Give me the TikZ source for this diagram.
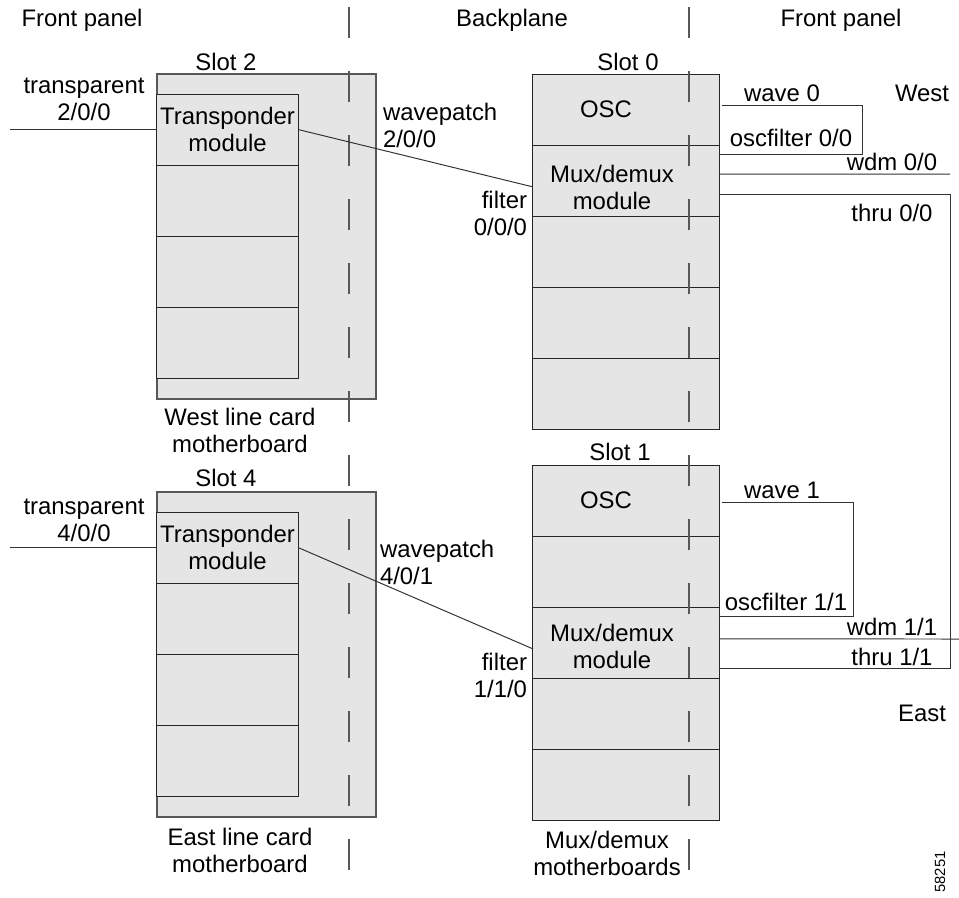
\documentclass[tikz,border=0pt]{standalone}
\usepackage{fontspec}
\setmainfont{Liberation Sans}
\definecolor{cardgray}{HTML}{E5E5E5}
\definecolor{rimgray}{HTML}{585858}
\definecolor{wiregray}{HTML}{333333}

\begin{document}
\begin{tikzpicture}[x=0.025cm,y=-0.025cm,
  every node/.style={font=\fontsize{17}{19.2}\selectfont, inner sep=0pt, outer sep=0pt, align=center},
  card/.style={draw=rimgray, fill=cardgray, line width=0.8pt, minimum width=5.475cm, minimum height=8.125cm},
  module/.style={draw=black!85, fill=cardgray, line width=0.7pt, minimum width=3.525cm, minimum height=1.775cm},
  muxcell/.style={module, minimum width=4.65cm},
  wire/.style={draw=wiregray, line width=0.7pt},
  divider/.style={draw=rimgray, line width=0.8pt, dash pattern=on 22pt off 23.5pt}]
\useasboundingbox (0,0) rectangle (959,897);

% line cards
\node[card] (west) at (266.5,236.5) {};
\node[module] (w2c0) at (227.5,129.5) {};
\node[module] (w2c1) at (227.5,200.5) {};
\node[module] (w2c2) at (227.5,271.5) {};
\node[module] (w2c3) at (227.5,342.5) {};

\node[card] (east) at (266.5,654.5) {};
\node[module] (e4c0) at (227.5,547.5) {};
\node[module] (e4c1) at (227.5,618.5) {};
\node[module] (e4c2) at (227.5,689.5) {};
\node[module] (e4c3) at (227.5,760.5) {};

% mux/demux motherboards
\node[muxcell] (s0c0) at (626,109.5) {};
\node[muxcell] (s0c1) at (626,180.5) {};
\node[muxcell] (s0c2) at (626,251.5) {};
\node[muxcell] (s0c3) at (626,322.5) {};
\node[muxcell] (s0c4) at (626,393.5) {};

\node[muxcell] (s1c0) at (626,500.5) {};
\node[muxcell] (s1c1) at (626,571.5) {};
\node[muxcell] (s1c2) at (626,642.5) {};
\node[muxcell] (s1c3) at (626,713.5) {};
\node[muxcell] (s1c4) at (626,784.5) {};

\draw[divider] (349,7) -- (349,872);
\draw[divider] (689,7) -- (689,872);

% module texts
\node (tp2) at (w2c0) {Transponder\\module};
\node (tp4) at (e4c0) {Transponder\\module};
\node (osc0) at ([xshift=-0.5cm]s0c0.center) {OSC};
\node (mux0) at ([xshift=-0.35cm,yshift=-0.18cm]s0c1.center) {Mux/demux\\module};
\node (osc1) at ([xshift=-0.5cm]s1c0.center) {OSC};
\node (mux1) at ([xshift=-0.35cm,yshift=-0.09cm]s1c2.center) {Mux/demux\\module};

% headings
\node (fpl) at (82,20) {Front panel};
\node (bpl) at (512,20) {Backplane};
\node (fpr) at (841,20) {Front panel};
\node (slot2) at (226,62) {Slot 2};
\node (slot0) at (628,62) {Slot 0};
\node (slot4) at (226,478) {Slot 4};
\node (slot1) at (620,452) {Slot 1};
\node (wlc) at (240,430) {West line card\\motherboard};
\node (elc) at (240,850) {East line card\\motherboard};
\node (mbs) at (607,853.5) {Mux/demux\\motherboards};
\node (west) at (922,93) {West};
\node (eastl) at (922,713) {East};
\node[rotate=90, font=\fontsize{10.5}{12}\selectfont] (fig) at (940,872) {58251};

% port labels
\node (tr2) at (84,99.5) {transparent\\2/0/0};
\node (tr4) at (84,520) {transparent\\4/0/0};
\node[anchor=west, align=left] (wp2) at (383,125.5) {wavepatch\\2/0/0};
\node[anchor=west, align=left] (wp4) at (380,562.5) {wavepatch\\4/0/1};
\node[anchor=east, align=right] (fl0) at (527,213.5) {filter\\0/0/0};
\node[anchor=east, align=right] (fl1) at (527,675.5) {filter\\1/1/0};
\node (wv0) at (782,93) {wave 0};
\node (of0) at (791,138) {oscfilter 0/0};
\node (wdm0) at (892,162) {wdm 0/0};
\node (thr0) at (892,213) {thru 0/0};
\node (wv1) at (782,490) {wave 1};
\node (of1) at (786,602) {oscfilter 1/1};
\node (wdm1) at (892,627) {wdm 1/1};
\node (thr1) at (892,657) {thru 1/1};

% cables
\coordinate (in2) at (10,129.5);
\coordinate (in4) at (10,547.5);
\coordinate (out0) at (950,174);
\coordinate (out1) at (959,639);
\draw[wire] (in2) -- (w2c0.west);
\draw[wire] (in4) -- (e4c0.west);
\draw[wire] (w2c0.east) -- ([yshift=-0.16cm]s0c1.west);
\draw[wire] (e4c0.east) -- ([yshift=-0.16cm]s1c2.west);
\draw[wire] ([xshift=2pt,yshift=0.09cm]s0c0.east) -- ++(141,0) |- ([yshift=0.66cm]s0c1.east);
\draw[wire] ([yshift=0.16cm]s0c1.east) -- (out0);
\draw[wire] ([yshift=-0.34cm]s0c1.east) -- ++(231,0) |- ([yshift=-0.64cm]s1c2.east);
\draw[wire] ([xshift=2pt,yshift=-0.06cm]s1c0.east) -- ++(132,0) |- ([yshift=0.66cm]s1c2.east);
\draw[wire] ([yshift=0.09cm]s1c2.east) -- (out1);
\end{tikzpicture}
\end{document}
